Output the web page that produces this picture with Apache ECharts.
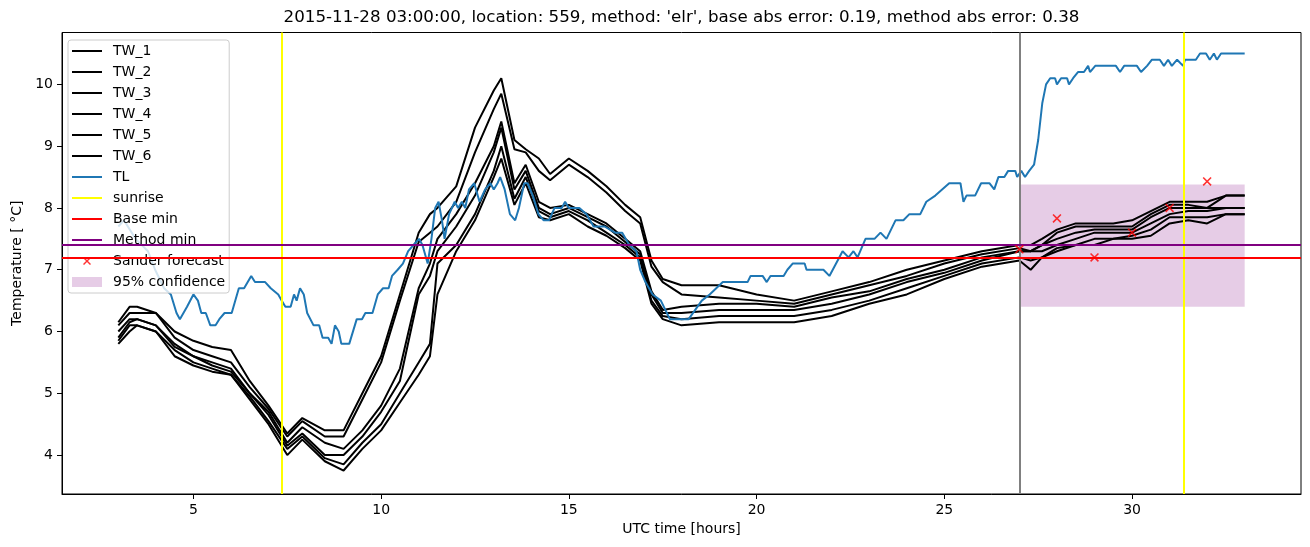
<!DOCTYPE html>
<html><head><meta charset="utf-8">
<script src="https://cdn.jsdelivr.net/npm/echarts@6/dist/echarts.min.js"></script>
<style>html,body{margin:0;padding:0;background:#fff}#c{width:1310px;height:547px}</style>
</head><body><div id="c"></div>
<script>
// ---------------- data ----------------
const titleText = "2015-11-28 03:00:00, location: 559, method: 'elr', base abs error: 0.19, method abs error: 0.38";
const xTicks = [5, 10, 15, 20, 25, 30];
const yTicks = [4, 5, 6, 7, 8, 9, 10];

const tlHours = [3.0,3.15,3.46,3.79,3.98,4.22,4.40,4.55,4.64,4.83,5.0,5.12,5.21,5.33,5.45,5.59,5.69,5.83,6.02,6.21,6.35,6.54,6.64,6.91,7.06,7.26,7.35,7.45,7.59,7.68,7.75,7.84,7.94,8.03,8.20,8.35,8.44,8.59,8.68,8.77,8.87,8.94,9.15,9.35,9.49,9.58,9.77,9.91,10.05,10.2,10.29,10.44,10.58,10.72,10.86,11.01,11.10,11.24,11.34,11.44,11.53,11.62,11.69,11.81,11.96,12.05,12.15,12.24,12.34,12.48,12.62,12.77,12.91,13.0,13.10,13.17,13.29,13.43,13.57,13.67,13.81,13.90,14.04,14.19,14.33,14.47,14.62,14.81,14.90,15.0,15.28,15.47,15.66,15.95,16.23,16.42,16.61,16.80,16.90,17.04,17.23,17.45,17.69,18.19,18.54,18.75,19.10,19.76,19.84,20.16,20.27,20.37,20.72,20.82,20.96,21.28,21.33,21.78,21.94,22.29,22.45,22.58,22.69,22.90,23.14,23.30,23.46,23.70,23.91,24.07,24.36,24.52,24.76,25.13,25.43,25.51,25.59,25.82,25.98,26.20,26.33,26.44,26.60,26.70,26.89,26.94,27.05,27.15,27.26,27.39,27.50,27.61,27.71,27.82,27.95,28.0,28.11,28.27,28.32,28.43,28.56,28.72,28.83,28.88,29.02,29.57,29.68,29.79,30.13,30.24,30.40,30.53,30.74,30.85,30.96,31.06,31.20,31.36,31.41,31.70,31.81,31.97,32.07,32.18,32.26,32.37,33.0];
const tlTemps = [7.7,7.8,7.5,7.3,7.0,6.7,6.6,6.3,6.2,6.4,6.6,6.5,6.3,6.3,6.1,6.1,6.2,6.3,6.3,6.7,6.7,6.9,6.8,6.8,6.7,6.6,6.5,6.4,6.4,6.6,6.5,6.7,6.6,6.3,6.1,6.1,5.9,5.9,5.8,6.1,6.0,5.8,5.8,6.2,6.2,6.3,6.3,6.6,6.7,6.7,6.9,7.0,7.1,7.3,7.4,7.5,7.4,7.1,7.5,8.0,8.1,7.8,7.5,7.9,8.1,8.0,8.1,8.0,8.3,8.4,8.1,8.3,8.4,8.3,8.4,8.5,8.3,7.9,7.8,8.0,8.4,8.4,8.2,7.9,7.8,7.8,8.0,8.0,8.1,8.0,8.0,7.9,7.7,7.7,7.6,7.6,7.4,7.3,7.0,6.8,6.6,6.5,6.2,6.2,6.5,6.6,6.8,6.8,6.9,6.9,6.8,6.9,6.9,7.0,7.1,7.1,7.0,7.0,6.9,7.3,7.2,7.3,7.2,7.5,7.5,7.6,7.5,7.8,7.8,7.9,7.9,8.1,8.2,8.4,8.4,8.1,8.2,8.2,8.4,8.4,8.3,8.5,8.5,8.6,8.6,8.5,8.6,8.5,8.6,8.7,9.1,9.7,10.0,10.1,10.1,10.0,10.1,10.1,10.0,10.1,10.2,10.2,10.3,10.2,10.3,10.3,10.2,10.3,10.3,10.2,10.3,10.4,10.4,10.3,10.4,10.3,10.4,10.3,10.4,10.4,10.5,10.5,10.4,10.5,10.4,10.5,10.5];

const twHours = [3,3.3,3.5,4,4.5,5,5.5,6,6.5,7,7.5,7.9,8.5,9,9.5,10,10.5,11,11.3,11.5,12,12.5,13,13.2,13.55,13.85,14.2,14.5,15,15.5,16,16.5,16.9,17.2,17.5,18,19,20,21,22,23,24,25,26,27,27.3,27.6,28,28.5,29,29.5,30,30.5,31,31.5,32,32.5,33];
const tw1 = [6.15,6.4,6.4,6.3,6.0,5.85,5.75,5.7,5.2,4.8,4.35,4.6,4.4,4.4,5.0,5.6,6.6,7.6,7.9,8.0,8.35,9.3,9.9,10.1,9.1,8.95,8.8,8.55,8.8,8.6,8.35,8.05,7.85,7.15,6.85,6.75,6.75,6.6,6.5,6.65,6.8,7.0,7.15,7.3,7.4,7.4,7.5,7.65,7.75,7.75,7.75,7.8,7.95,8.1,8.1,8.1,8.2,8.2];
const tw2 = [6.1,6.3,6.3,6.3,5.9,5.7,5.6,5.5,5.1,4.75,4.3,4.55,4.3,4.3,4.9,5.5,6.5,7.45,7.6,7.7,8.1,8.9,9.6,9.85,8.95,8.9,8.6,8.45,8.7,8.5,8.25,7.95,7.75,7.05,6.8,6.6,6.55,6.5,6.45,6.6,6.75,6.9,7.1,7.25,7.35,7.3,7.4,7.6,7.7,7.7,7.7,7.7,7.9,8.05,8.05,8.0,8.2,8.2];
const tw3 = [6.0,6.2,6.2,6.1,5.8,5.6,5.5,5.4,5.0,4.7,4.2,4.45,4.2,4.1,4.4,4.8,5.4,6.7,7.1,7.5,7.9,8.4,9.0,9.4,8.4,8.7,8.1,8.0,8.05,7.9,7.75,7.5,7.3,6.65,6.35,6.4,6.45,6.45,6.4,6.55,6.65,6.85,7.0,7.2,7.3,7.3,7.4,7.5,7.6,7.65,7.65,7.65,7.85,8.0,8.0,8.0,8.0,8.0];
const tw4 = [5.9,6.15,6.2,6.1,5.75,5.6,5.45,5.35,5.0,4.65,4.15,4.35,4.0,4.0,4.3,4.7,5.2,6.6,6.9,7.3,7.7,8.2,8.9,9.3,8.3,8.6,8.0,7.9,8.0,7.85,7.7,7.45,7.25,6.6,6.3,6.3,6.35,6.35,6.35,6.45,6.6,6.8,6.95,7.15,7.3,7.3,7.3,7.4,7.5,7.6,7.6,7.6,7.75,7.9,7.95,7.95,8.0,8.0];
const tw5 = [5.85,6.1,6.1,6.0,5.7,5.5,5.4,5.3,4.95,4.55,4.1,4.3,3.95,3.85,4.2,4.5,5.0,5.5,5.8,7.1,7.4,7.9,8.6,9.0,8.15,8.5,7.95,7.85,7.95,7.8,7.6,7.4,7.2,6.5,6.25,6.2,6.25,6.25,6.25,6.35,6.5,6.7,6.9,7.1,7.2,7.15,7.2,7.35,7.4,7.5,7.5,7.55,7.65,7.85,7.85,7.85,7.9,7.9];
const tw6 = [5.8,6.0,6.1,6.0,5.6,5.45,5.35,5.3,4.9,4.5,4.0,4.25,3.9,3.75,4.1,4.4,4.85,5.3,5.6,6.6,7.3,7.8,8.5,8.8,8.05,8.4,7.85,7.8,7.9,7.7,7.55,7.35,7.15,6.45,6.2,6.1,6.15,6.15,6.15,6.25,6.45,6.6,6.85,7.05,7.15,7.0,7.2,7.3,7.4,7.4,7.5,7.5,7.55,7.75,7.8,7.75,7.9,7.9];
const twNames = ['TW_1','TW_2','TW_3','TW_4','TW_5','TW_6'];
const twSeries = [tw1, tw2, tw3, tw4, tw5, tw6];

const sunriseHours = [7.35, 31.38];
const nowHour = 27;
const baseMin = 7.2;
const methodMin = 7.4;
const sanderHours = [27, 28, 29, 30, 31, 32];
const sanderTemps = [7.33, 7.83, 7.2, 7.6, 8.0, 8.43];
const confHours = [27, 33];
const confTemps = [6.4, 8.38];

// ---------------- chart ----------------
const FONT = 'DejaVu Sans';
const pairs = (xs, ys) => xs.map((x, i) => [x, ys[i]]);
const lineIcon = 'path://M0,0L0.01,0L0,0.01Z M0,6H30V8H0Z M36,14L35.99,14L36,13.99Z';
const xIcon = 'path://M0,0L0.01,0L0,0.01Z M11,4L12,3L19,10L18,11Z M18,3L19,4L12,11L11,10Z M36,14L35.99,14L36,13.99Z';
const patchIcon = 'path://M0,0L0.01,0L0,0.01Z M0,2H30V12H0Z M36,14L35.99,14L36,13.99Z';
const xMarker = 'path://M0,1L1,0L8,7L7,8Z M7,0L8,1L1,8L0,7Z';
const confColor = 'rgba(128,0,128,0.2)';

const series = [];
twSeries.forEach((vals, k) => {
  series.push({
    name: twNames[k], type: 'line', data: pairs(twHours, vals), showSymbol: false, symbol: 'none',
    lineStyle: { color: '#000', width: 2 }, itemStyle: { color: '#000' }, z: 3
  });
});
series.push({
  name: 'TL', type: 'line', data: pairs(tlHours, tlTemps), showSymbol: false, symbol: 'none',
  lineStyle: { color: '#1f77b4', width: 2 }, itemStyle: { color: '#1f77b4' }, z: 3
});
const vline = (name, xs, color) => ({
  name, type: 'line', data: [], itemStyle: { color }, z: 4,
  markLine: { silent: true, symbol: ['none', 'none'], label: { show: false },
    lineStyle: { color, width: 2, type: 'solid' }, data: xs.map(x => ({ xAxis: x })) }
});
const hline = (name, y, color) => ({
  name, type: 'line', data: [], itemStyle: { color }, z: 4,
  markLine: { silent: true, symbol: ['none', 'none'], label: { show: false },
    lineStyle: { color, width: 2, type: 'solid' }, data: [{ yAxis: y }] }
});
series.push(vline('sunrise', sunriseHours, '#ffff00'));
series.push(vline('now', [nowHour], '#808080'));
series.push(hline('Base min', baseMin, '#ff0000'));
series.push(hline('Method min', methodMin, '#800080'));
series.push({
  name: 'Sander forecast', type: 'scatter', data: pairs(sanderHours, sanderTemps),
  symbol: xMarker, symbolSize: 9, itemStyle: { color: '#ff0000' }, z: 5
});
series.push({
  name: '95% confidence', type: 'line', data: [], itemStyle: { color: confColor }, z: 1,
  markArea: { silent: true, itemStyle: { color: confColor },
    data: [[{ coord: [confHours[0], confTemps[0]] }, { coord: [confHours[1], confTemps[1]] }]] }
});

const legendData = twNames.map(n => ({ name: n, icon: lineIcon }))
  .concat([
    { name: 'TL', icon: lineIcon },
    { name: 'sunrise', icon: lineIcon },
    { name: 'Base min', icon: lineIcon },
    { name: 'Method min', icon: lineIcon },
    { name: 'Sander forecast', icon: xIcon },
    { name: '95% confidence', icon: patchIcon }
  ]);

const axisText = { color: '#000', fontSize: 14, fontFamily: FONT };

const option = {
  animation: false,
  backgroundColor: '#fff',
  title: {
    text: titleText, left: 676.5, top: 4, textAlign: 'center',
    textStyle: { fontFamily: FONT, fontSize: 16.7, fontWeight: 'normal', color: '#000' }
  },
  legend: {
    orient: 'vertical', left: 68, top: 40, padding: [4, 4, 4, 4],
    itemWidth: 36, itemHeight: 14, itemGap: 7,
    backgroundColor: 'rgba(255,255,255,0.8)', borderColor: '#cccccc', borderWidth: 1, borderRadius: 3,
    textStyle: { fontFamily: FONT, fontSize: 14, color: '#000', lineHeight: 14 },
    itemStyle: { borderWidth: 0 },
    selectedMode: false,
    data: legendData
  },
  grid: { left: 62, right: 9, top: 32.5, bottom: 53, show: true, borderColor: '#000', borderWidth: 1,
    containLabel: false, outerBoundsMode: 'none' },
  xAxis: {
    type: 'value', min: 1.5, max: 34.5,
    name: 'UTC time [hours]', nameLocation: 'middle', nameGap: 28, nameTextStyle: axisText,
    axisLine: { show: true, onZero: false, lineStyle: { color: '#000', width: 1 } },
    axisTick: { show: true, length: 5, lineStyle: { color: '#000', width: 1 }, customValues: xTicks },
    axisLabel: { ...axisText, margin: 9, customValues: xTicks },
    splitLine: { show: false }
  },
  yAxis: {
    type: 'value', min: 3.37, max: 10.84,
    name: 'Temperature [ °C]', nameLocation: 'middle', nameGap: 37, nameTextStyle: axisText,
    axisLine: { show: true, onZero: false, lineStyle: { color: '#000', width: 1 } },
    axisTick: { show: true, length: 5, lineStyle: { color: '#000', width: 1 }, customValues: yTicks },
    axisLabel: { ...axisText, margin: 9, customValues: yTicks },
    splitLine: { show: false }
  },
  series
};

const chart = echarts.init(document.getElementById('c'), null, { renderer: 'canvas' });
chart.setOption(option);
</script></body></html>
